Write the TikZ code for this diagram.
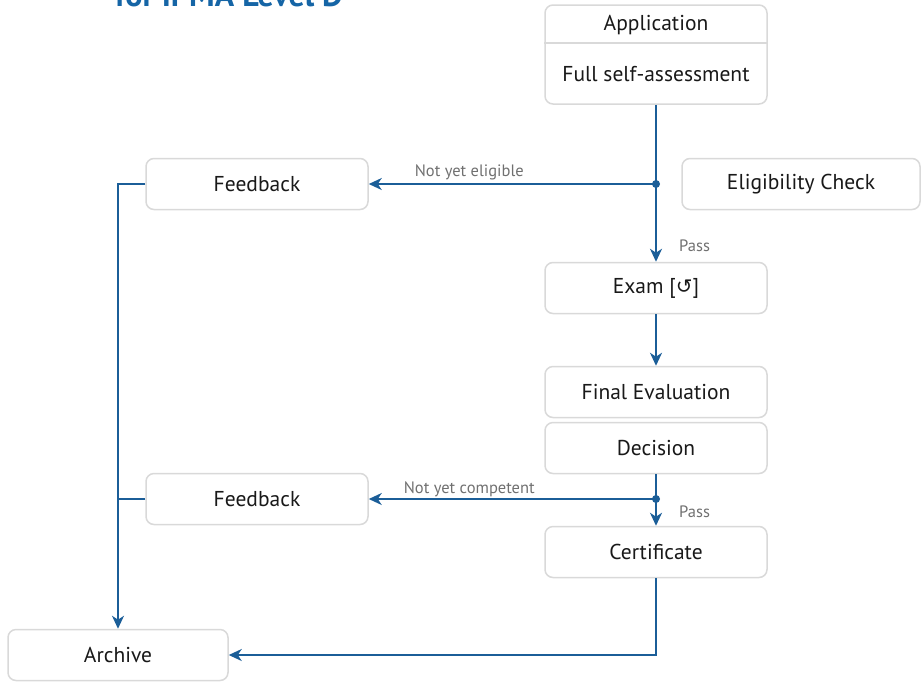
\documentclass[tikz,border=0pt]{standalone}
\usepackage{fontspec}
\setmainfont{PT Sans}
\newfontfamily\symfont{DejaVu Sans}
\usetikzlibrary{arrows.meta}
\definecolor{flowblue}{HTML}{1B5E98}
\definecolor{boxgray}{HTML}{D9D9D9}
\definecolor{lblgray}{HTML}{707070}
\definecolor{titleblue}{HTML}{1565A6}

\begin{document}
\begin{tikzpicture}[x=1pt, y=-1pt,
		stage/.style={draw=boxgray, line width=1.5pt, rounded corners=8pt, fill=white,
			minimum width=222pt, minimum height=51pt, inner sep=0pt,
			font=\fontsize{21.5}{24}\selectfont, text=black!90},
		plain/.style={inner sep=0pt, font=\fontsize{21.5}{24}\selectfont, text=black!90},
		flow/.style={draw=flowblue, line width=2pt, -{Stealth[length=13pt, width=12pt, inset=4pt]}},
		wire/.style={draw=flowblue, line width=2pt},
		lbl/.style={inner sep=2pt, font=\fontsize{16.5}{19}\selectfont, text=lblgray}]
		\useasboundingbox (0,0) rectangle (923,681);
		
		% title, cut off by the page edge
		\node[anchor=base west, inner sep=0pt, font=\fontsize{32}{36}\selectfont\bfseries, text=titleblue] (title) at (115,6) {for IPMA Level D};
		
		% boxes
		\node[stage, minimum height=99pt] (app) at (656,54.5) {};
		\node[plain] (apptxt) at (656,25) {Application};
		\node[plain] (selftxt) at (656,74) {Full self-assessment};
		\draw[boxgray, line width=1.5pt] (app.west |- 0,43) -- (app.east |- 0,43);
		
		\node[stage] (fbone) at (257,184) {Feedback};
		\node[stage, minimum width=238pt] (elig) at (801,184) {Eligibility Check};
		\node[stage] (exam) at (656,288) {Exam [{\symfont\fontsize{20}{22}\selectfont\char"21BA}]};
		\node[stage] (final) at (656,392) {Final Evaluation};
		\node[stage] (decision) at (656,448) {Decision};
		\node[stage] (fbtwo) at (257,499) {Feedback};
		\node[stage] (cert) at (656,552) {Certificate};
		\node[stage, minimum width=220pt] (archive) at (118,655) {Archive};
		
		\coordinate (splitone) at (app.south |- fbone.east);
		\coordinate (splittwo) at (decision.south |- fbtwo.east);
		
		% connectors
		\draw[flow] (app.south) -- (exam.north);
		\draw[flow] (splitone) -- (fbone.east) node[lbl, pos=0.65, above=1pt] (noteli) {Not yet eligible};
		\fill[flowblue] (splitone) circle (4);
		\node[lbl, anchor=west] (passone) at (677,246) {Pass};
		
		\draw[flow] (exam.south) -- (final.north);
		
		\draw[flow] (decision.south) -- (cert.north);
		\draw[flow] (splittwo) -- (fbtwo.east) node[lbl, pos=0.65, above=-1pt] (notcomp) {Not yet competent};
		\fill[flowblue] (splittwo) circle (4);
		\node[lbl, anchor=west] (passtwo) at (677,512) {Pass};
		
		\draw[flow] (cert.south) |- (archive.east);
		\draw[flow] (fbone.west) -| (archive.north);
		\draw[wire] (fbtwo.west) -- (archive.north |- fbtwo.west);
		
	\end{tikzpicture}
\end{document}
